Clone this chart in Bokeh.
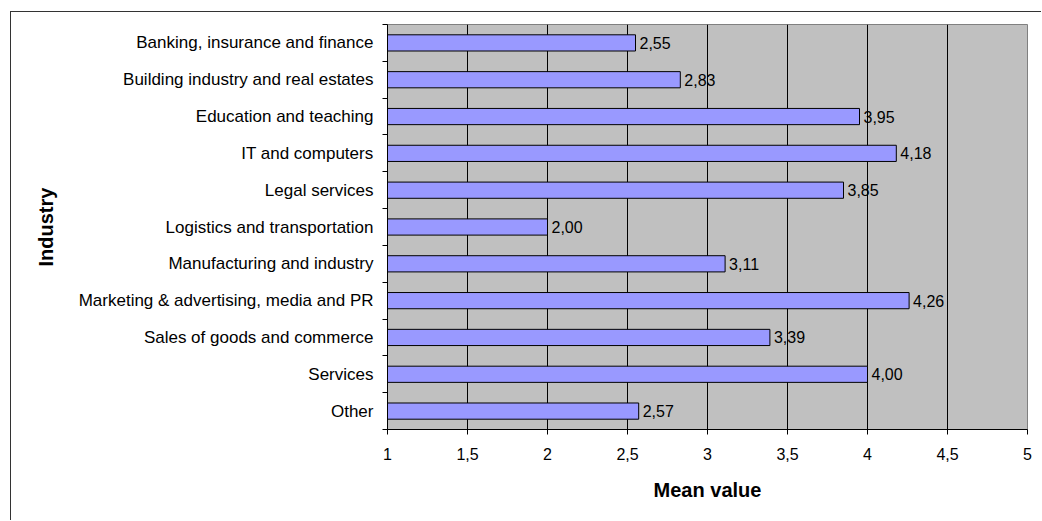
from bokeh.plotting import figure
from bokeh.models import ColumnDataSource, FixedTicker, Range1d
from bokeh.core.properties import value
from bokeh.embed import file_html
from bokeh.resources import INLINE

categories = [
    "Banking, insurance and finance",
    "Building industry and real estates",
    "Education and teaching",
    "IT and computers",
    "Legal services",
    "Logistics and transportation",
    "Manufacturing and industry",
    "Marketing & advertising, media and PR",
    "Sales of goods and commerce",
    "Services",
    "Other",
]
values = [2.55, 2.83, 3.95, 4.18, 3.85, 2.00, 3.11, 4.26, 3.39, 4.00, 2.57]
x_ticks = [1, 1.5, 2, 2.5, 3, 3.5, 4, 4.5, 5]
x_tick_labels = ["1", "1,5", "2", "2,5", "3", "3,5", "4", "4,5", "5"]

FONT = "Liberation Sans"

idx = list(range(len(categories)))
src = ColumnDataSource(dict(
    y=idx,
    v=values,
    lab=[("%.2f" % v).replace(".", ",") for v in values],
))

p = figure(width=1031, height=509, output_backend="svg", toolbar_location=None,
           x_range=Range1d(1, 5), y_range=Range1d(len(categories) - 0.5, -0.5),
           min_border_left=376, min_border_right=15, min_border_top=12,
           min_border_bottom=92)
p.styles = {"margin-left": "10px", "margin-top": "11px",
            "border-left": "1px solid #333333", "border-top": "1px solid #333333"}

p.background_fill_color = "#C0C0C0"
p.border_fill_color = "white"
p.outline_line_color = "#808080"
p.outline_line_width = 1

p.hbar(y="y", left=1, right="v", height=0.44, source=src,
       fill_color="#9999FF", line_color="black", line_width=1)
p.text(x="v", y="y", text="lab", source=src, x_offset=4,
       text_baseline="middle", text_align="left",
       text_font=value(FONT), text_font_size="16px", text_color="black")

# x axis
xa = p.xaxis[0]
xa.ticker = FixedTicker(ticks=x_ticks)
xa.major_label_overrides = {t: l for t, l in zip(x_ticks, x_tick_labels)}
xa.major_label_text_font = FONT
xa.major_label_text_font_size = "16px"
xa.major_label_text_color = "black"
xa.major_tick_out = 5
xa.major_tick_in = 0
xa.minor_tick_line_color = None
xa.axis_line_color = "black"
xa.major_tick_line_color = "black"
xa.major_label_standoff = 13
xa.axis_label = "Mean value"
xa.axis_label_text_font = FONT
xa.axis_label_text_font_style = "bold"
xa.axis_label_text_font_size = "20px"
xa.axis_label_text_color = "black"
xa.axis_label_standoff = 16

# y axis
ya = p.yaxis[0]
ya.ticker = FixedTicker(ticks=idx, minor_ticks=[i - 0.5 for i in range(len(categories) + 1)])
ya.major_label_overrides = {i: c for i, c in zip(idx, categories)}
ya.major_label_text_font = FONT
ya.major_label_text_font_size = "17px"
ya.major_label_text_color = "black"
ya.major_tick_line_color = None
ya.major_tick_out = 0
ya.major_tick_in = 0
ya.minor_tick_out = 5
ya.minor_tick_in = 0
ya.minor_tick_line_color = "black"
ya.axis_line_color = "black"
ya.major_label_standoff = 9
ya.axis_label = "Industry"
ya.axis_label_text_font = FONT
ya.axis_label_text_font_style = "bold"
ya.axis_label_text_font_size = "20px"
ya.axis_label_text_color = "black"
ya.axis_label_standoff = 19

p.xgrid.grid_line_color = "black"
p.xgrid.grid_line_width = 1
p.ygrid.grid_line_color = None

open("out.html", "w").write(file_html(p, INLINE))
